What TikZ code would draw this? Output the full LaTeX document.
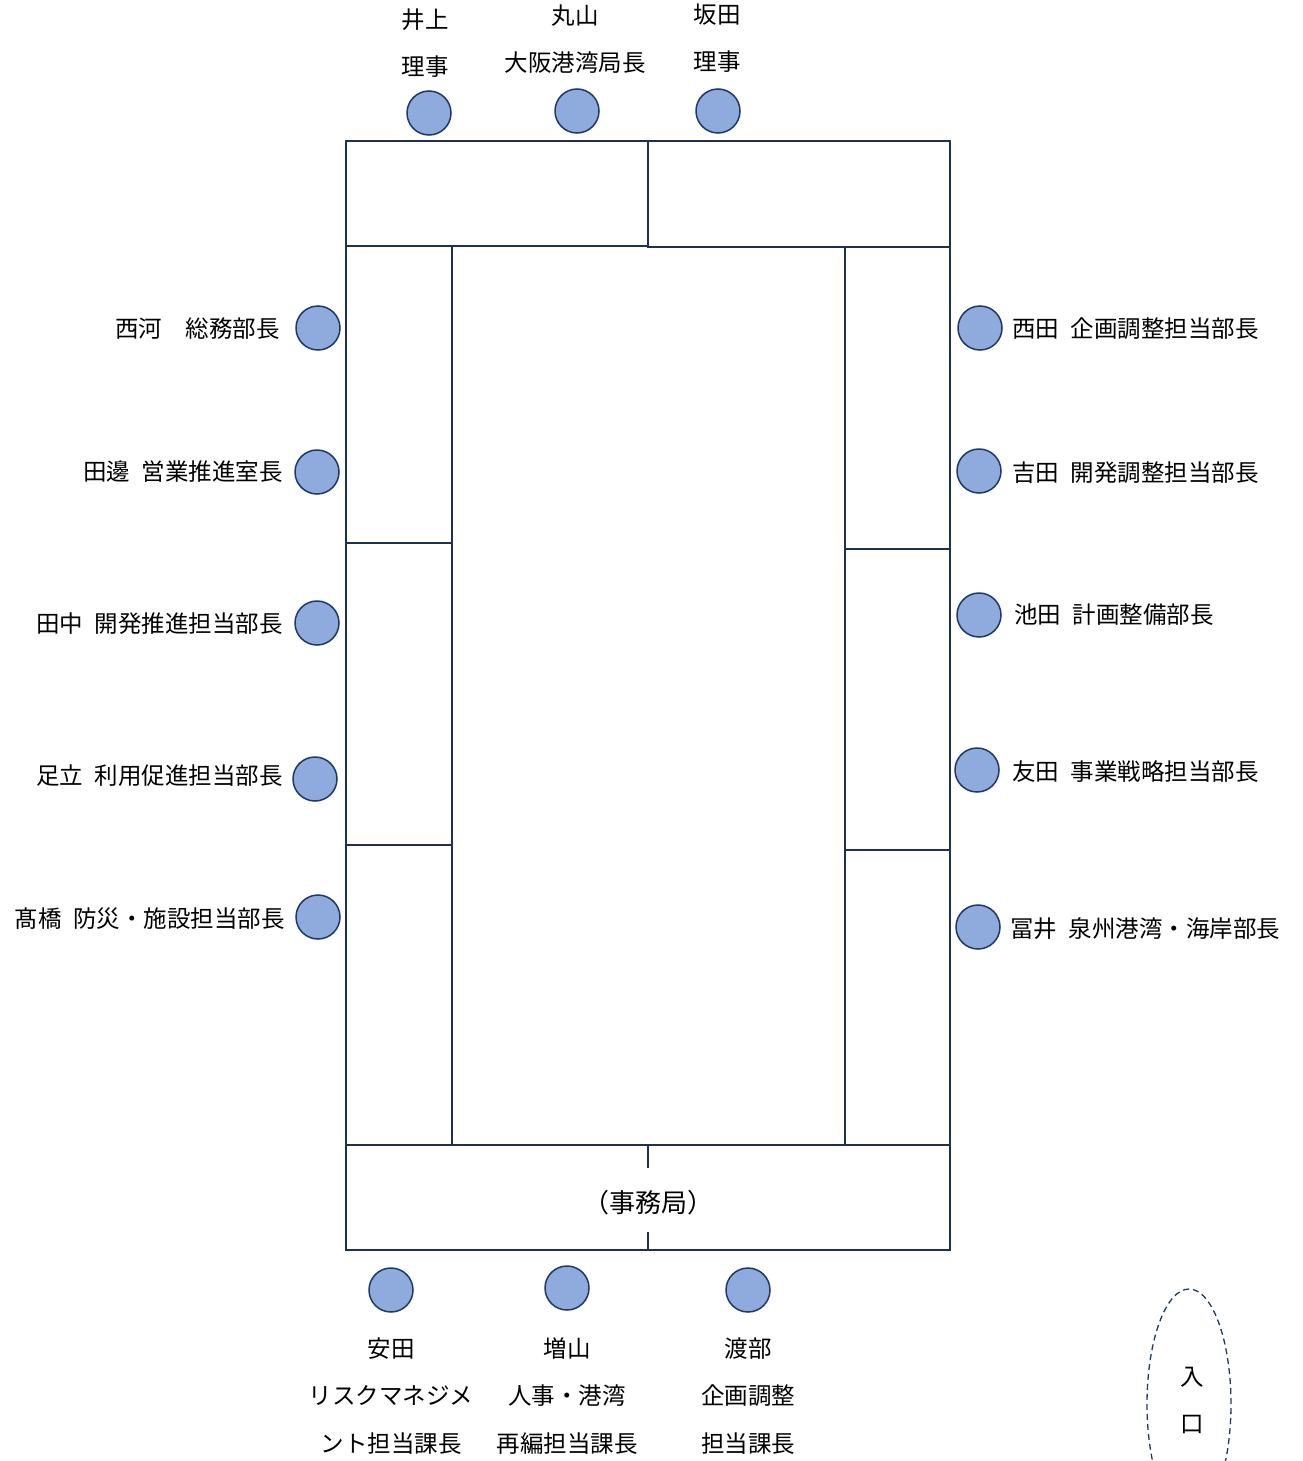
\documentclass[tikz,border=0pt]{standalone}
\usepackage{fontspec}
\setmainfont{Noto Sans CJK JP}
\usetikzlibrary{shapes.geometric}
\definecolor{seatfill}{HTML}{8FAADC}
\definecolor{seatline}{HTML}{1F3864}
\definecolor{tableline}{HTML}{203050}
\tikzset{
  seat/.style={circle,draw=seatline,fill=seatfill,line width=1.5pt,minimum size=44pt,inner sep=0pt},
  lbl/.style={font=\fontsize{23.5}{28}\selectfont,inner sep=0pt},
  tbl/.style={draw=tableline,line width=2pt},
}
\begin{document}
\begin{tikzpicture}[x=1pt,y=-1pt]
\useasboundingbox (0,0) rectangle (1302,1461);
% tables
\draw[tbl] (346,141) rectangle (648,246);
\draw[tbl] (648,141) rectangle (950,247);
\draw[tbl] (346,246) rectangle (452,543);
\draw[tbl] (346,543) rectangle (452,845);
\draw[tbl] (346,845) rectangle (452,1145);
\draw[tbl] (845,247) rectangle (950,549);
\draw[tbl] (845,549) rectangle (950,850);
\draw[tbl] (845,850) rectangle (950,1145);
\draw[tbl] (346,1145) rectangle (950,1250);
\draw[tbl] (648,1145) -- (648,1168);
\draw[tbl] (648,1232) -- (648,1250);
\node[lbl,font=\fontsize{26}{30}\selectfont] (jimu) at (648,1203) {（事務局）};
% top seats
\node[seat] (s1) at (429,113) {};
\node[seat] (s2) at (577,111) {};
\node[seat] (s3) at (718,111) {};
\node[lbl] (t1a) at (425,20) {井上};
\node[lbl] (t1b) at (425,67) {理事};
\node[lbl] (t2a) at (575,16) {丸山};
\node[lbl] (t2b) at (575,63) {大阪港湾局長};
\node[lbl] (t3a) at (717,15) {坂田};
\node[lbl] (t3b) at (717,62) {理事};
% left seats
\node[seat] (l1) at (318,328) {};
\node[seat] (l2) at (317,472) {};
\node[seat] (l3) at (317,623) {};
\node[seat] (l4) at (315,779) {};
\node[seat] (l5) at (318,917) {};
\node[lbl,anchor=east] (ll1) at (280,329) {西河　総務部長};
\node[lbl,anchor=east] (ll2) at (283,472) {田邊\hspace{0.5em}営業推進室長};
\node[lbl,anchor=east] (ll3) at (283,624) {田中\hspace{0.5em}開発推進担当部長};
\node[lbl,anchor=east] (ll4) at (283,776) {足立\hspace{0.5em}利用促進担当部長};
\node[lbl,anchor=east] (ll5) at (285,919) {髙橋\hspace{0.5em}防災・施設担当部長};
% right seats
\node[seat] (r1) at (980,328) {};
\node[seat] (r2) at (979,471) {};
\node[seat] (r3) at (979,615) {};
\node[seat] (r4) at (977,770) {};
\node[seat] (r5) at (978,927) {};
\node[lbl,anchor=west] (rl1) at (1012,329) {西田\hspace{0.5em}企画調整担当部長};
\node[lbl,anchor=west] (rl2) at (1012,473) {吉田\hspace{0.5em}開発調整担当部長};
\node[lbl,anchor=west] (rl3) at (1014,615) {池田\hspace{0.5em}計画整備部長};
\node[lbl,anchor=west] (rl4) at (1012,772) {友田\hspace{0.5em}事業戦略担当部長};
\node[lbl,anchor=west] (rl5) at (1010,929) {冨井\hspace{0.5em}泉州港湾・海岸部長};
% bottom seats
\node[seat] (b1) at (391,1290) {};
\node[seat] (b2) at (567,1288) {};
\node[seat] (b3) at (748,1290) {};
\node[lbl] (b1a) at (391,1349) {安田};
\node[lbl] (b1b) at (391,1396) {リスクマネジメ};
\node[lbl] (b1c) at (391,1444) {ント担当課長};
\node[lbl] (b2a) at (567,1349) {増山};
\node[lbl] (b2b) at (567,1396) {人事・港湾};
\node[lbl] (b2c) at (567,1444) {再編担当課長};
\node[lbl] (b3a) at (748,1349) {渡部};
\node[lbl] (b3b) at (748,1396) {企画調整};
\node[lbl] (b3c) at (748,1444) {担当課長};
% entrance
\node[ellipse,draw=seatline,dash pattern=on 6pt off 4pt,line width=1.3pt,minimum width=84pt,minimum height=230pt,inner sep=0pt] (ent) at (1189,1404) {};
\node[lbl] (e1) at (1192,1377) {入};
\node[lbl] (e2) at (1192,1424) {口};
\end{tikzpicture}
\end{document}
